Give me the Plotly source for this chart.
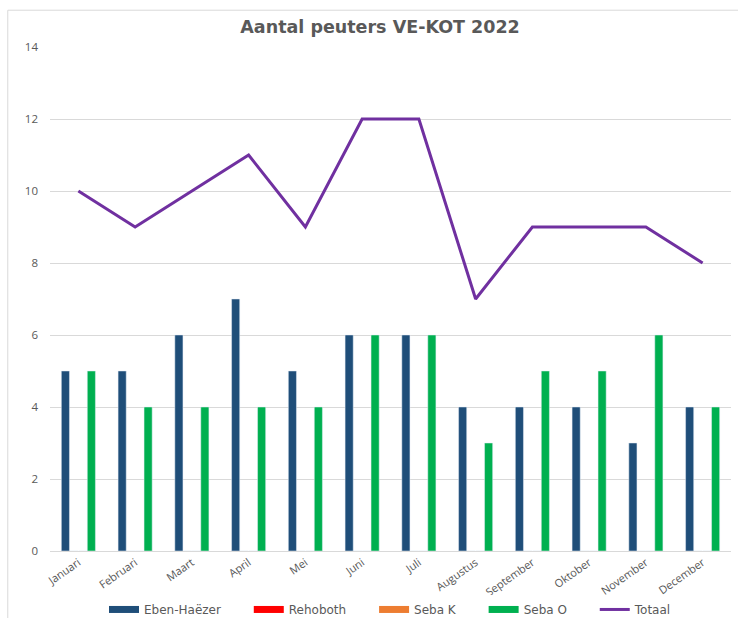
import plotly.graph_objects as go

maanden = ['Januari', 'Februari', 'Maart', 'April', 'Mei', 'Juni', 'Juli',
           'Augustus', 'September', 'Oktober', 'November', 'December']

eben_haezer = [5, 5, 6, 7, 5, 6, 6, 4, 4, 4, 3, 4]
rehoboth = [0, 0, 0, 0, 0, 0, 0, 0, 0, 0, 0, 0]
seba_k = [0, 0, 0, 0, 0, 0, 0, 0, 0, 0, 0, 0]
seba_o = [5, 4, 4, 4, 4, 6, 6, 3, 5, 5, 6, 4]
totaal = [10, 9, 10, 11, 9, 12, 12, 7, 9, 9, 9, 8]

reeksen = [('Eben-Haëzer', eben_haezer, '#1F4E79'),
           ('Rehoboth', rehoboth, '#FF0000'),
           ('Seba K', seba_k, '#ED7D31'),
           ('Seba O', seba_o, '#00B050')]

grijs = '#595959'
opvulling = '\u00a0' * 6  # extra ruimte tussen legenda-items

fig = go.Figure()
for naam, waarden, kleur in reeksen:
    fig.add_trace(go.Bar(x=maanden, y=waarden, name=naam, marker_color=kleur,
                         legendgroup=naam, showlegend=False))
fig.add_trace(go.Scatter(x=maanden, y=totaal, name='Totaal', mode='lines',
                         line=dict(color='#7030A0', width=3), showlegend=False))

# legenda met brede blokjes zoals in Excel
for naam, waarden, kleur in reeksen:
    fig.add_trace(go.Scatter(x=[None], y=[None], name=naam + opvulling, mode='lines',
                             legendgroup=naam, line=dict(color=kleur, width=7)))
fig.add_trace(go.Scatter(x=[None], y=[None], name='Totaal', mode='lines',
                         line=dict(color='#7030A0', width=3)))

fig.update_layout(
    width=738, height=618,
    margin=dict(l=50, r=7, t=47, b=67, autoexpand=False),
    paper_bgcolor='white', plot_bgcolor='white',
    font=dict(family='Open Sans', color=grijs, size=11),
    title=dict(text='<b>Aantal peuters VE-KOT 2022</b>', x=0.515, xanchor='center',
               yref='container', y=1 - 27 / 618, yanchor='middle',
               font=dict(family='DejaVu Sans', size=17.5, color=grijs)),
    barmode='group', bargap=0.39, bargroupgap=0.06,
    legend=dict(orientation='h', x=0.5, xanchor='center', y=-0.116, yanchor='middle',
                font=dict(family='DejaVu Sans', size=12, color=grijs), traceorder='normal'),
    showlegend=True,
)
fig.update_xaxes(tickangle=-35, showgrid=False, showline=True, linecolor='#D9D9D9',
                 ticks='', tickfont=dict(size=11), automargin=False)
fig.update_yaxes(range=[0, 14], dtick=2, showgrid=True, gridcolor='#D9D9D9',
                 zeroline=False, ticks='', tickfont=dict(size=11.5), automargin=False,
                 ticklabelstandoff=11)

# rand rond de grafiek
fig.add_shape(type='rect', xref='paper', yref='paper',
              x0=-0.062, x1=1.02, y0=-0.2, y1=1.073,
              line=dict(color='#D9D9D9', width=1), fillcolor='rgba(0,0,0,0)', layer='below')

fig.write_html('out.html', config={'displayModeBar': False},
               post_script="document.body.style.margin='0';")
